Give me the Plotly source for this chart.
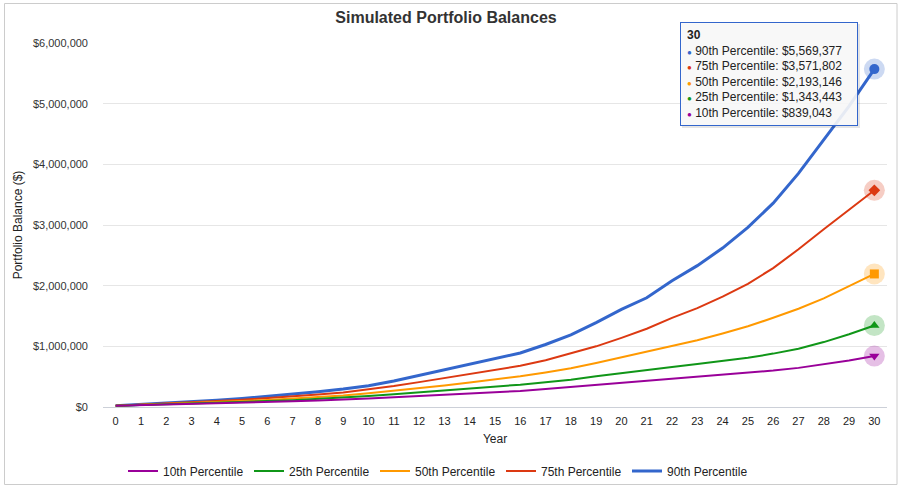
import plotly.graph_objects as go

years = list(range(0, 31))

p90 = [20000, 40000, 60000, 85000, 110000, 140000, 175000, 210000, 250000, 295000,
       350000, 430000, 520000, 615000, 710000, 800000, 890000, 1030000, 1190000, 1390000,
       1610000, 1800000, 2080000, 2330000, 2620000, 2960000, 3360000, 3850000, 4400000, 4960000,
       5569377]
p75 = [20000, 37000, 55000, 75000, 97000, 120000, 145000, 175000, 205000, 240000,
       290000, 345000, 410000, 475000, 540000, 610000, 680000, 770000, 880000, 1000000,
       1140000, 1290000, 1470000, 1630000, 1820000, 2030000, 2290000, 2600000, 2930000, 3250000,
       3571802]
p50 = [20000, 33000, 48000, 63000, 80000, 97000, 116000, 137000, 160000, 190000,
       225000, 265000, 310000, 355000, 405000, 450000, 505000, 570000, 640000, 726000,
       820000, 920000, 1010000, 1100000, 1210000, 1330000, 1470000, 1620000, 1790000, 1985000,
       2193146]
p25 = [20000, 31000, 43000, 55000, 68000, 82000, 97000, 113000, 132000, 155000,
       180000, 210000, 240000, 270000, 305000, 335000, 368000, 410000, 450000, 505000,
       560000, 615000, 660000, 710000, 755000, 810000, 880000, 960000, 1070000, 1200000,
       1343443]
p10 = [20000, 29000, 39000, 49000, 60000, 71000, 83000, 95000, 108000, 120000,
       140000, 160000, 180000, 200000, 220000, 238000, 264000, 297000, 330000, 363000,
       396000, 434000, 467000, 500000, 530000, 563000, 600000, 645000, 700000, 767000,
       839043]

series_names = ["90th Percentile", "75th Percentile", "50th Percentile", "25th Percentile", "10th Percentile"]
series_values = [p90, p75, p50, p25, p10]
colors = ["#3366cc", "#dc3912", "#ff9900", "#109618", "#990099"]
halo_colors = ["rgba(51,102,204,0.25)", "rgba(220,57,18,0.25)", "rgba(255,153,0,0.25)",
               "rgba(16,150,24,0.25)", "rgba(153,0,153,0.25)"]
widths = [3, 2, 2, 2, 2]
end_symbols = ["circle", "diamond", "square", "triangle-up", "triangle-down"]
end_sizes = [10, 9, 9, 9, 9]
y_ticks = [0, 1000000, 2000000, 3000000, 4000000, 5000000, 6000000]
y_tick_labels = ["$0", "$1,000,000", "$2,000,000", "$3,000,000", "$4,000,000", "$5,000,000", "$6,000,000"]

FONT = "Liberation Sans, Arial, sans-serif"

fig = go.Figure()
for name, vals, c, w in zip(series_names, series_values, colors, widths):
    fig.add_trace(go.Scatter(x=years, y=vals, name=name, mode="lines",
                             line=dict(color=c, width=w),
                             hovertemplate="$%{y:,.0f}<extra>" + name + "</extra>"))

for name, vals, c, hc, sym, sz in zip(series_names, series_values, colors, halo_colors, end_symbols, end_sizes):
    fig.add_trace(go.Scatter(x=[years[-1]], y=[vals[-1]], mode="markers", showlegend=False,
                             hoverinfo="skip",
                             marker=dict(size=21, color=hc, symbol="circle", line=dict(width=0))))
    fig.add_trace(go.Scatter(x=[years[-1]], y=[vals[-1]], mode="markers", showlegend=False,
                             hoverinfo="skip",
                             marker=dict(size=sz, color=c, symbol=sym, line=dict(width=0))))

L, R, T, B = 103, 14, 43, 83
W, H = 901, 490
pw, ph = W - L - R, H - T - B


def px_x(x):
    return (x - L) / pw


def px_y(y):
    return (H - B - y) / ph


# tooltip replica
lines = ["<b>%d</b>" % years[-1]]
for name, vals, c in zip(series_names, series_values, colors):
    lines.append('<span style="color:%s;font-size:8px">●</span> %s: $%s' % (c, name, format(vals[-1], ",")))
tooltip_text = "<br>".join(lines)

# tooltip shadow
fig.add_shape(type="rect", xref="paper", yref="paper",
              x0=px_x(682), x1=px_x(860), y0=px_y(128), y1=px_y(24),
              line=dict(width=0), fillcolor="rgba(0,0,0,0.10)", layer="above")
fig.add_annotation(xref="paper", yref="paper", x=px_x(680), y=px_y(22), xanchor="left", yanchor="top",
                   width=164, height=90,
                   text=tooltip_text, showarrow=False, align="left", valign="middle",
                   font=dict(family=FONT, size=12, color="#222"),
                   bgcolor="rgba(250,250,250,0.9)", bordercolor="#3366cc", borderwidth=1, borderpad=6)

fig.add_shape(type="rect", xref="paper", yref="paper",
              x0=px_x(4.5), x1=px_x(897), y0=px_y(484.5), y1=px_y(3.5),
              line=dict(color="#cccccc", width=1), fillcolor="rgba(0,0,0,0)", layer="below")

fig.update_layout(
    width=W, height=H,
    margin=dict(l=L, r=R, t=T, b=B, autoexpand=False),
    paper_bgcolor="white", plot_bgcolor="white",
    font=dict(family=FONT, size=11, color="#444"),
    title=dict(text="<b>Simulated Portfolio Balances</b>", x=446 / W, xanchor="center",
               yref="container", y=1 - 17 / H, yanchor="middle",
               font=dict(family=FONT, size=16, color="#333")),
    legend=dict(orientation="h", traceorder="reversed", x=px_x(123), xanchor="left",
                y=px_y(471), yanchor="middle", font=dict(family=FONT, size=12, color="#222"),
                entrywidth=81, entrywidthmode="pixels", bgcolor="rgba(0,0,0,0)"),
    hovermode="x",
    showlegend=True,
)
fig.update_xaxes(range=[-0.5, 30.5], tickmode="array", tickvals=years, showgrid=False,
                 zeroline=False, showline=False, ticks="", ticklabelstandoff=6, automargin=False,
                 tickfont=dict(family=FONT, size=11, color="#222"),
                 title=dict(text="Year", standoff=8, font=dict(family=FONT, size=12, color="#222")))
fig.update_yaxes(range=[0, 6000000], tickmode="array", tickvals=y_ticks, ticktext=y_tick_labels,
                 showgrid=True, gridcolor="#e6e6e6", gridwidth=1, zeroline=True, zerolinecolor="#ccd0d8",
                 zerolinewidth=1, showline=False, ticks="", ticklabelstandoff=14, automargin=False,
                 tickfont=dict(family=FONT, size=11, color="#333"),
                 title=dict(text="Portfolio Balance ($)", standoff=7, font=dict(family=FONT, size=12, color="#222")))

fig.write_html("out.html", config={"displayModeBar": False},
               post_script="document.body.style.margin='0';document.body.style.overflow='hidden';")
